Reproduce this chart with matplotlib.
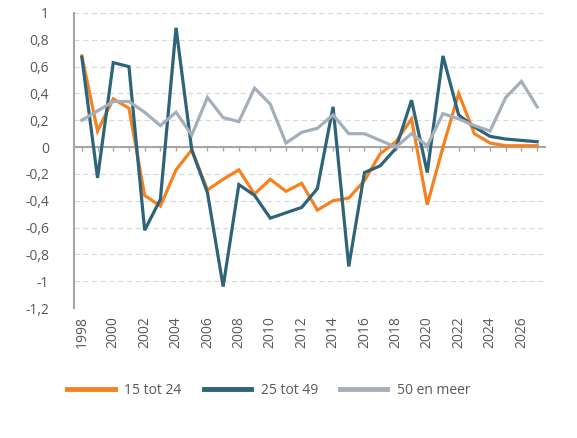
import matplotlib
matplotlib.use("Agg")
import matplotlib.pyplot as plt
from matplotlib.ticker import FuncFormatter

years = list(range(1998, 2028))
s15_24 = [0.68, 0.12, 0.36, 0.29, -0.36, -0.44, -0.17, -0.02, -0.32, -0.24, -0.17, -0.35, -0.24,
          -0.33, -0.27, -0.47, -0.40, -0.38, -0.25, -0.05, 0.04, 0.21, -0.43, 0.0, 0.40, 0.10,
          0.03, 0.01, 0.01, 0.01]
s25_49 = [0.67, -0.23, 0.63, 0.60, -0.62, -0.39, 0.89, -0.02, -0.34, -1.04, -0.28, -0.36, -0.53,
          -0.49, -0.45, -0.31, 0.30, -0.89, -0.19, -0.14, -0.01, 0.35, -0.19, 0.68, 0.24, 0.15,
          0.08, 0.06, 0.05, 0.04]
s50 = [0.20, 0.27, 0.34, 0.34, 0.26, 0.16, 0.26, 0.09, 0.37, 0.22, 0.19, 0.44, 0.32, 0.03,
       0.11, 0.14, 0.24, 0.10, 0.10, 0.05, 0.0, 0.10, 0.01, 0.25, 0.21, 0.16, 0.12, 0.37,
       0.49, 0.30]
labels = ["15 tot 24", "25 tot 49", "50 en meer"]
colors = ["#F5821F", "#2D6479", "#A5AFBB"]
yticks = [1, 0.8, 0.6, 0.4, 0.2, 0, -0.2, -0.4, -0.6, -0.8, -1, -1.2]
xlabel_years = list(range(1998, 2027, 2))

plt.rcParams['font.family'] = ['Open Sans', 'DejaVu Sans']
txt = "#595959"
axc = "#A6A6A6"

fig = plt.figure(figsize=(5.77, 4.38), dpi=100)
ax = fig.add_axes([74/577, 1-308/438, (545-74)/577, (308-13)/438])

for s, lab, c in zip([s15_24, s25_49, s50], labels, colors):
    ax.plot(years, s, color=c, lw=2.3, label=lab, solid_joinstyle='miter')

ax.set_xlim(1997.5, 2027.5)
ax.set_ylim(-1.2, 1.0)
ax.set_yticks(yticks)
ax.yaxis.set_major_formatter(FuncFormatter(lambda v, p: ('%g' % round(v, 1)).replace('.', ',')))
ax.grid(axis='y', color='#D9D9D9', ls=(0, (4, 3)), lw=0.9)
ax.set_axisbelow(True)

for sp in ['top', 'right']:
    ax.spines[sp].set_visible(False)
ax.spines['left'].set_color(axc)
ax.spines['left'].set_linewidth(1.5)
ax.spines['bottom'].set_position(('data', 0))
ax.spines['bottom'].set_color(axc)
ax.spines['bottom'].set_linewidth(1.5)
ax.spines['bottom'].set_zorder(1)

ax.set_xticks(years)
ax.tick_params(axis='x', length=3, width=1, color=axc, labelbottom=False)
ax.tick_params(axis='y', length=0, pad=18, labelsize=10, labelcolor=txt)

sec = ax.secondary_xaxis(0)
sec.set_xticks(xlabel_years)
sec.set_xticklabels([str(y) for y in xlabel_years], rotation=90)
sec.tick_params(length=0, pad=6, labelsize=10, labelcolor=txt)
sec.spines['bottom'].set_visible(False)

leg = fig.legend(loc='center', bbox_to_anchor=(269/577, 1-390/438), ncol=3, frameon=False,
                 fontsize=10, handlelength=3.4, columnspacing=1.6, handletextpad=0.7)
for t in leg.get_texts():
    t.set_color(txt)
for l in leg.get_lines():
    l.set_linewidth(3.5)

fig.savefig("out.png", dpi=100)
